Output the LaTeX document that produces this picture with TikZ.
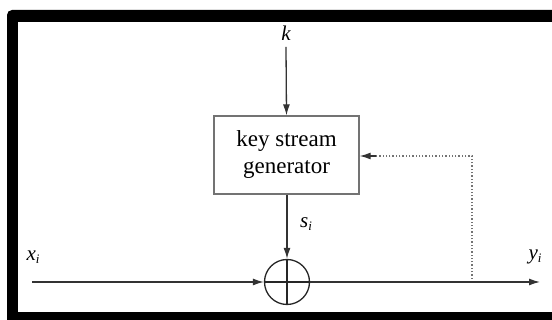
\documentclass[tikz,border=0pt]{standalone}
\usepackage{fontspec}
\setmainfont{Liberation Serif}
\usetikzlibrary{arrows.meta}
\begin{document}
\begin{tikzpicture}[x=1pt,y=1pt,
  conn/.style={draw=black!80, line width=1.3pt, -{Latex[length=11pt,width=7pt]}},
  fb/.style={draw=black!55, line width=1.3pt, dotted},
  lbl/.style={inner sep=0pt, font=\fontsize{21}{24}\selectfont\itshape},
  genbox/.style={draw=black!55, line width=1.3pt, minimum width=145pt, minimum height=78pt, align=center, inner sep=0pt, font=\fontsize{23}{27}\selectfont},
  xorc/.style={circle, draw=black!85, line width=1.3pt, minimum size=45pt, inner sep=0pt}]
\useasboundingbox (0,0) rectangle (552,320);
\clip (0,0) rectangle (552,320);
\fill[black, rounded corners=5pt] (7,310) rectangle (620,-20);
\fill[white] (18,298) rectangle (620,8);
\node[lbl] (k) at (286,287) {k};
\node[genbox] (gen) at (286.5,165) {key stream\\generator};
\node[xorc] (xor) at (287,38) {};
\draw[black!85, line width=1.3pt] (xor.north) -- (xor.south) (xor.west) -- (xor.east);
\node[lbl] (s) at (306,96) {s\raisebox{-0.35ex}{\fontsize{13}{14}\selectfont i}};
\node[lbl] (x) at (33,63) {x\raisebox{-0.35ex}{\fontsize{13}{14}\selectfont i}};
\node[lbl] (y) at (535,63) {y\raisebox{-0.35ex}{\fontsize{13}{14}\selectfont i}};
\coordinate (kin) at (286,273);
\coordinate (in) at (32,38);
\coordinate (out) at (540,38);
\coordinate (fbb) at (472,41);
\coordinate (fbt) at (472,164);
\draw[conn] (kin) -- (gen.north);
\draw[conn] (gen.south -| xor.north) -- (xor.north);
\draw[conn] (in) -- (xor.west);
\draw[conn] (xor.east) -- (out);
\draw[fb] (fbb) -- (fbt) -- ([xshift=14pt]gen.east |- fbt);
\draw[conn] ([xshift=16pt]gen.east |- fbt) -- (gen.east |- fbt);
\end{tikzpicture}
\end{document}
